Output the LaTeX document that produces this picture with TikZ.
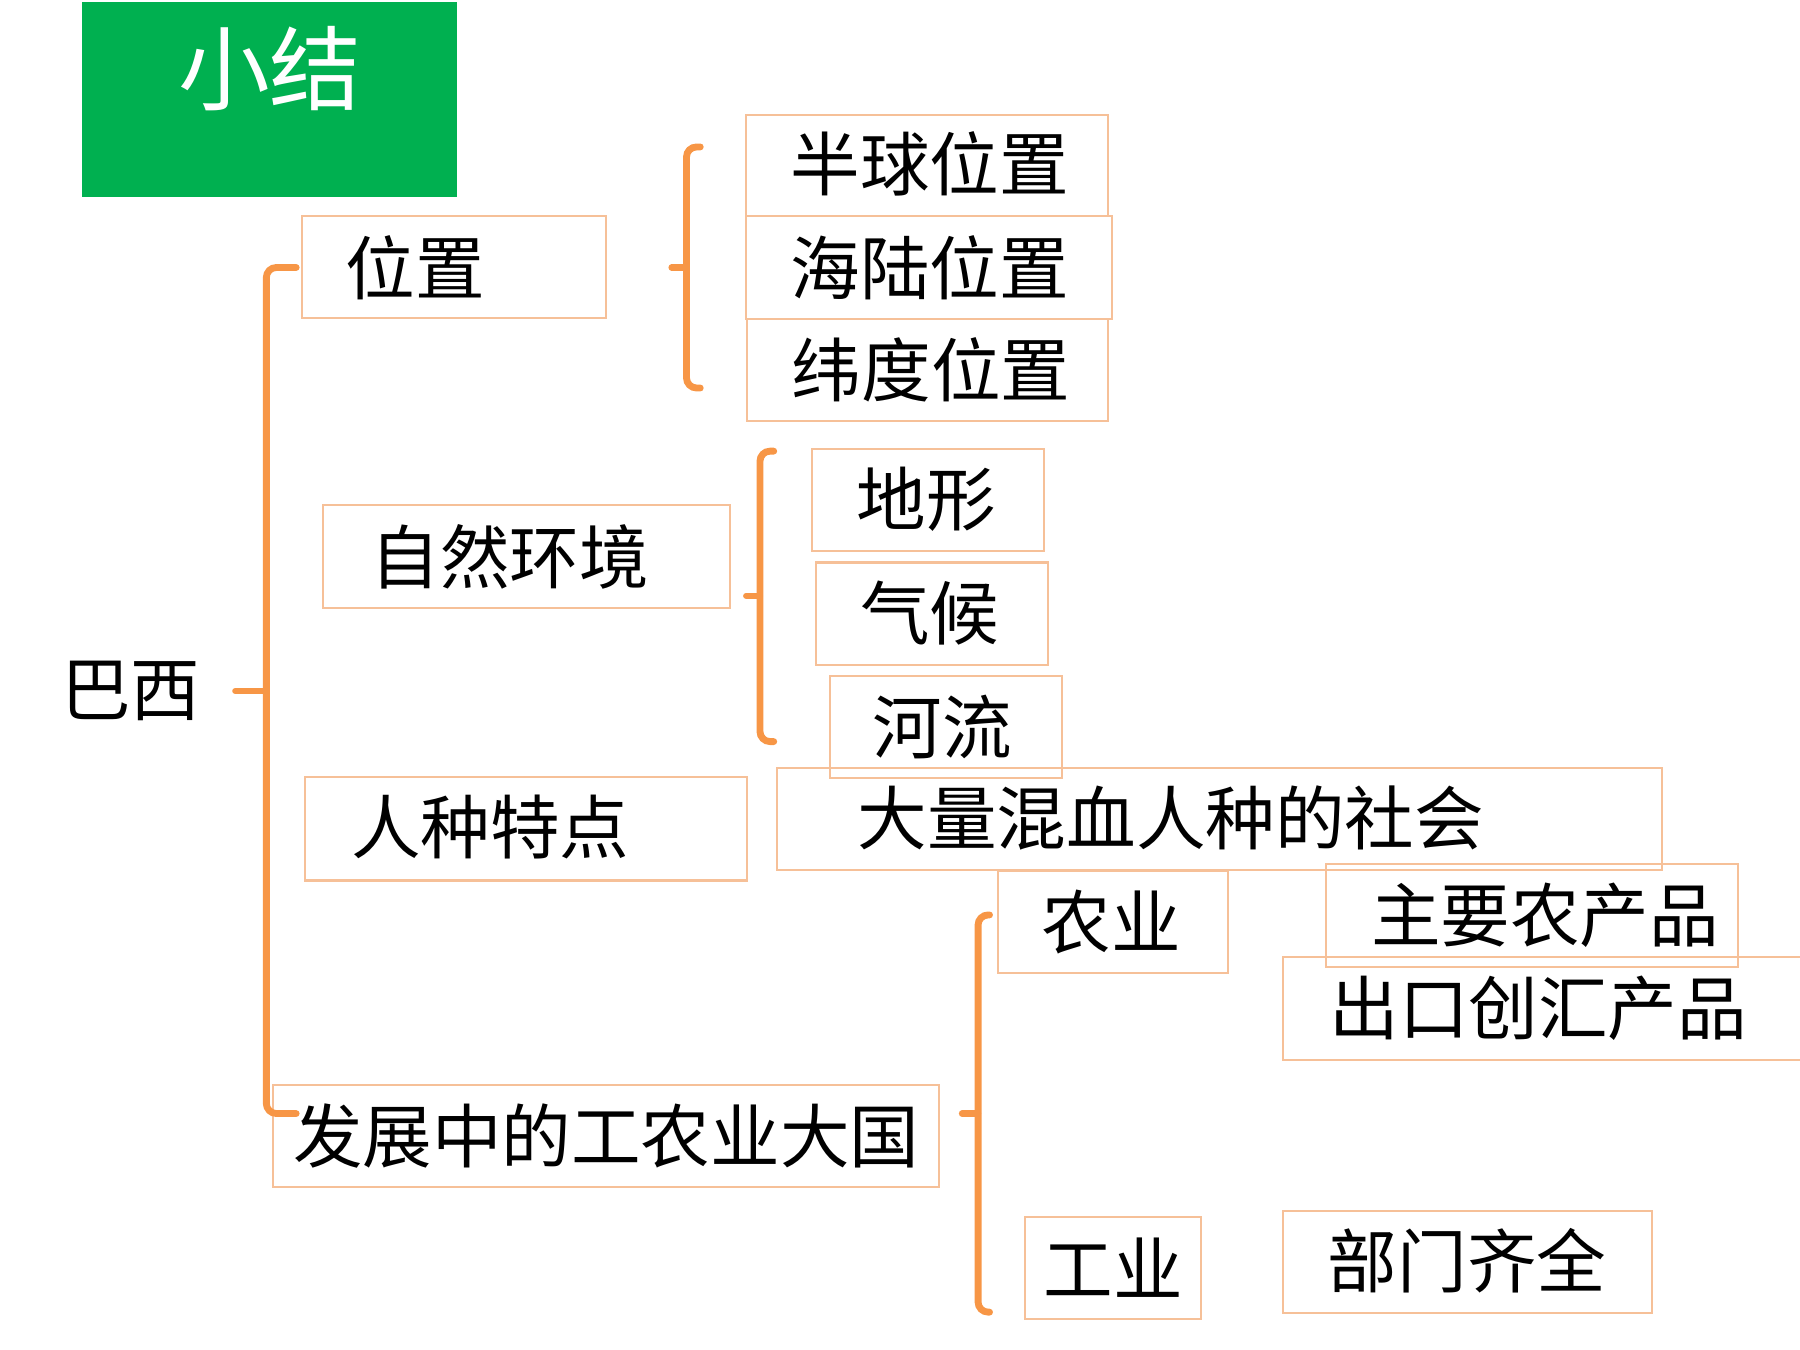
\documentclass[tikz,border=0pt]{standalone}
\usepackage{fontspec}
\setmainfont{Noto Sans CJK SC}
\usetikzlibrary{fit}
\definecolor{boxc}{HTML}{F6C098}
\definecolor{brc}{HTML}{F79646}
\definecolor{titlegreen}{HTML}{00B050}
\begin{document}
\begin{tikzpicture}[x=0.02cm,y=-0.02cm,
  box/.style={draw=boxc,line width=1pt,inner sep=0pt,fit={#1}},
  lbl/.style={font=\fontsize{34.5}{40}\selectfont,inner sep=0pt,text=black},
  brk/.style={draw=brc,line width=3.4pt,rounded corners=5pt,line cap=round},
  nub/.style={draw=brc,line width=3.1pt,line cap=round}]
\useasboundingbox (0,0) rectangle (1568,1176);
\clip (0,0) rectangle (1568,1176);

% title
\node[fill=titlegreen,inner sep=0pt,fit={(71,2) (398,172)}] (title) {};
\node[font=\fontsize{45.5}{50}\selectfont,text=white,inner sep=0pt] (titletext) at (235,60) {小结};

% boxes
\node[box={(263,188) (528,277)}] (loc) {};
\node[box={(650,100) (965,188)}] (hemi) {};
\node[box={(650,188) (969,278)}] (sealand) {};
\node[box={(651,278) (965,367)}] (lat) {};
\node[box={(281,440) (636,530)}] (nat) {};
\node[box={(707,391) (909,480)}] (terr) {};
\node[box={(711,490) (913,579)}] (clim) {};
\node[box={(723,589) (925,678)}] (river) {};
\node[box={(266,677) (651,767)}] (race) {};
\node[box={(677,669) (1448,758)}] (mixed) {};
\node[box={(869,759) (1070,848)}] (agri) {};
\node[box={(1155,753) (1514,842)}] (mainprod) {};
\node[box={(1118,834) (1600,923)}] (export) {};
\node[box={(238,945) (818,1034)}] (dev) {};
\node[box={(893,1060) (1046,1149)}] (ind) {};
\node[box={(1118,1055) (1439,1144)}] (dept) {};

% texts
\node[lbl] (brazil) at (114,602) {巴西};
\node[lbl] (loc-t) at (362,233) {位置};
\node[lbl] (hemi-t) at (810,143) {半球位置};
\node[lbl] (sealand-t) at (810,233) {海陆位置};
\node[lbl] (lat-t) at (811,322) {纬度位置};
\node[lbl] (nat-t) at (444,485) {自然环境};
\node[lbl] (terr-t) at (807,435) {地形};
\node[lbl] (clim-t) at (810,534) {气候};
\node[lbl] (river-t) at (821,633) {河流};
\node[lbl] (race-t) at (427,720) {人种特点};
\node[lbl] (mixed-t) at (1020,713) {大量混血人种的社会};
\node[lbl] (agri-t) at (968,803) {农业};
\node[lbl] (mainprod-t) at (1346,797) {主要农产品};
\node[lbl] (export-t) at (1340,878) {出口创汇产品};
\node[lbl] (dev-t) at (528,990) {发展中的工农业大国};
\node[lbl] (ind-t) at (970,1104) {工业};
\node[lbl] (dept-t) at (1278,1098) {部门齐全};

% main bracket
\coordinate (m-top) at (258,233);
\coordinate (m-bot) at (258,970);
\coordinate (m-nub) at (205,602);
\coordinate (m-mid) at (232,602);
\draw[brk] (m-top) -| (m-mid) |- (m-bot);
\draw[nub] (m-nub) -- (m-mid);

% location bracket
\coordinate (l-top) at (610,128);
\coordinate (l-bot) at (610,338);
\coordinate (l-nub) at (585,233);
\coordinate (l-mid) at (598,233);
\draw[brk] (l-top) -| (l-mid) |- (l-bot);
\draw[nub] (l-nub) -- (l-mid);

% nature bracket
\coordinate (n-top) at (674,393);
\coordinate (n-bot) at (674,646);
\coordinate (n-nub) at (650,519);
\coordinate (n-mid) at (662,519);
\draw[brk] (n-top) -| (n-mid) |- (n-bot);
\draw[nub] (n-nub) -- (n-mid);

% development bracket
\coordinate (d-top) at (862,797);
\coordinate (d-bot) at (862,1143);
\coordinate (d-nub) at (838,970);
\coordinate (d-mid) at (852,970);
\draw[brk] (d-top) -| (d-mid) |- (d-bot);
\draw[nub] (d-nub) -- (d-mid);
\end{tikzpicture}
\end{document}
